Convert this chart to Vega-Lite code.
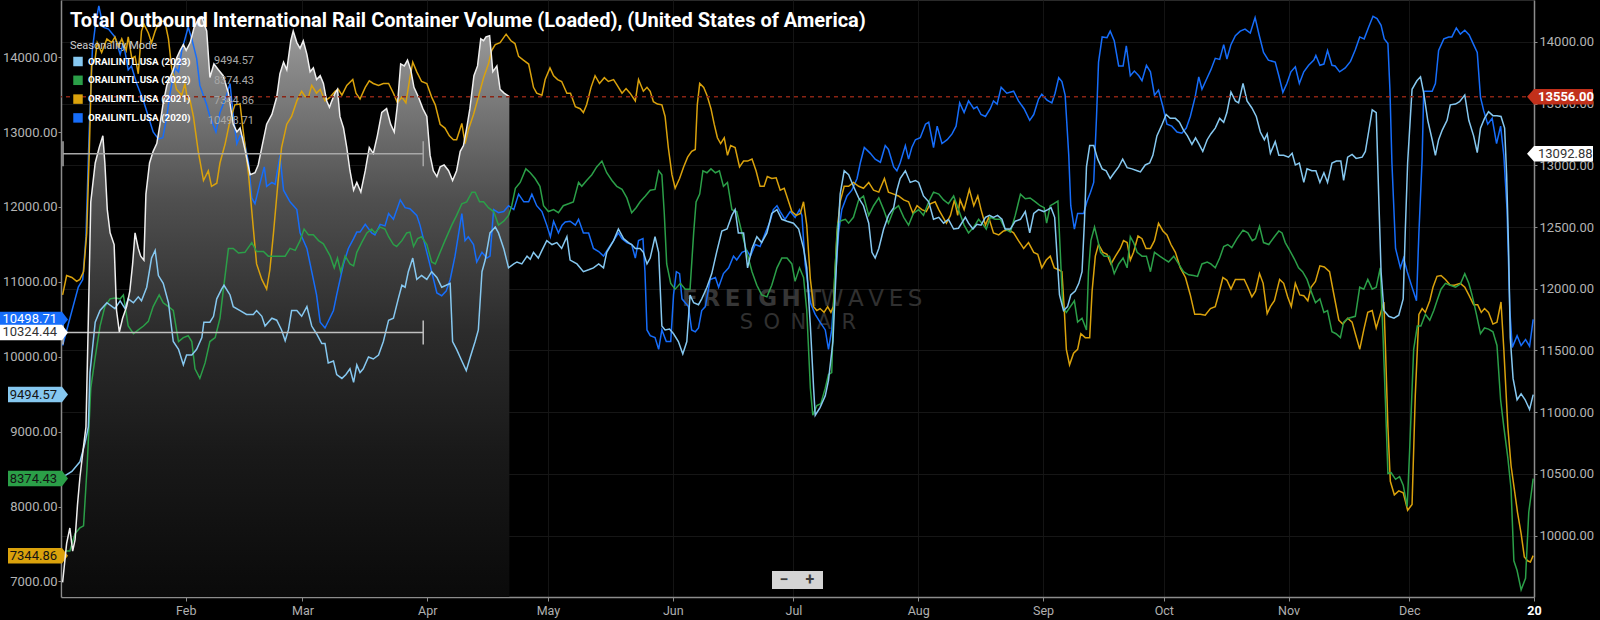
{
  "$schema": "https://vega.github.io/schema/vega-lite/v6.json",
  "width": 1473,
  "height": 597,
  "autosize": {"type": "none"},
  "padding": {"left": 61, "right": 66, "top": 0, "bottom": 23},
  "background": "#000000",
  "title": {
    "text": "Total Outbound International Rail Container Volume (Loaded), (United States of America)",
    "anchor": "start", "frame": "group", "offset": -31, "dx": 9,
    "font": "Roboto", "fontSize": 20, "fontWeight": "bold", "color": "#ffffff"
  },
  "config": {
    "view": {"stroke": "#2a2a2a"},
    "font": "Roboto",
    "axis": {"labelFont": "Roboto", "domainColor": "#8c8c8c", "tickColor": "#8c8c8c", "domainWidth": 1.5},
    "legend": {"labelFont": "Roboto", "titleFont": "Roboto"}
  },
  "datasets": {
    "lines": [
      {"s":"2020","d":0.4,"v":10150},{"s":"2020","d":4.3,"v":10930},{"s":"2020","d":5.4,"v":11030},{"s":"2020","d":6.2,"v":11600},{"s":"2020","d":7,"v":13000},{"s":"2020","d":7.8,"v":14100},{"s":"2020","d":8.6,"v":14450},{"s":"2020","d":9.4,"v":14684},{"s":"2020","d":10.5,"v":14399},{"s":"2020","d":11.8,"v":14373},{"s":"2020","d":13.4,"v":14269},{"s":"2020","d":14.7,"v":14036},{"s":"2020","d":15.5,"v":14192},{"s":"2020","d":16.7,"v":13829},{"s":"2020","d":17.5,"v":13881},{"s":"2020","d":18.8,"v":13648},{"s":"2020","d":20.5,"v":13415},{"s":"2020","d":21.7,"v":13207},{"s":"2020","d":22.9,"v":13000},{"s":"2020","d":24.2,"v":12907},{"s":"2020","d":25.3,"v":12923},{"s":"2020","d":26.3,"v":13207},{"s":"2020","d":27.1,"v":13518},{"s":"2020","d":28.3,"v":13855},{"s":"2020","d":29.2,"v":13803},{"s":"2020","d":30,"v":14088},{"s":"2020","d":30.8,"v":14243},{"s":"2020","d":31.6,"v":14399},{"s":"2020","d":32.5,"v":14243},{"s":"2020","d":33.7,"v":13984},{"s":"2020","d":34.5,"v":13622},{"s":"2020","d":36.2,"v":13363},{"s":"2020","d":37,"v":13207},{"s":"2020","d":38.5,"v":13000},{"s":"2020","d":39.5,"v":13259},{"s":"2020","d":41,"v":13466},{"s":"2020","d":42,"v":13648},{"s":"2020","d":42.8,"v":13207},{"s":"2020","d":43.7,"v":12845},{"s":"2020","d":44.5,"v":12948},{"s":"2020","d":45.4,"v":12923},{"s":"2020","d":46.6,"v":12586},{"s":"2020","d":47.4,"v":12120},{"s":"2020","d":48.2,"v":12042},{"s":"2020","d":49.5,"v":12327},{"s":"2020","d":50.5,"v":12534},{"s":"2020","d":51.1,"v":12275},{"s":"2020","d":52.4,"v":12327},{"s":"2020","d":53.2,"v":12301},{"s":"2020","d":54.4,"v":12689},{"s":"2020","d":55.3,"v":12223},{"s":"2020","d":56.9,"v":12068},{"s":"2020","d":58.6,"v":11964},{"s":"2020","d":59.4,"v":11653},{"s":"2020","d":61.1,"v":11446},{"s":"2020","d":62.3,"v":11135},{"s":"2020","d":63.5,"v":10825},{"s":"2020","d":64.4,"v":10462},{"s":"2020","d":65.6,"v":10384},{"s":"2020","d":67.7,"v":10617},{"s":"2020","d":68.5,"v":10825},{"s":"2020","d":70.2,"v":11239},{"s":"2020","d":71.4,"v":11446},{"s":"2020","d":72.7,"v":11576},{"s":"2020","d":73.5,"v":11664},{"s":"2020","d":74.3,"v":11664},{"s":"2020","d":75.6,"v":11767},{"s":"2020","d":77.2,"v":11653},{"s":"2020","d":78,"v":11627},{"s":"2020","d":79.3,"v":11767},{"s":"2020","d":80.5,"v":11747},{"s":"2020","d":81.4,"v":11912},{"s":"2020","d":82.6,"v":11835},{"s":"2020","d":84.3,"v":12094},{"s":"2020","d":85.5,"v":11990},{"s":"2020","d":86.7,"v":11975},{"s":"2020","d":88.4,"v":11887},{"s":"2020","d":89.2,"v":11757},{"s":"2020","d":90.9,"v":11394},{"s":"2020","d":92.1,"v":11135},{"s":"2020","d":93.4,"v":10851},{"s":"2020","d":94.6,"v":10814},{"s":"2020","d":95.7,"v":10876},{"s":"2020","d":96.7,"v":11032},{"s":"2020","d":97.9,"v":11343},{"s":"2020","d":99.6,"v":11912},{"s":"2020","d":100.4,"v":11550},{"s":"2020","d":101.2,"v":11602},{"s":"2020","d":102.5,"v":11498},{"s":"2020","d":103.3,"v":11265},{"s":"2020","d":104.6,"v":11394},{"s":"2020","d":105.8,"v":11317},{"s":"2020","d":106.6,"v":11343},{"s":"2020","d":107.5,"v":11964},{"s":"2020","d":108.7,"v":11923},{"s":"2020","d":110,"v":11938},{"s":"2020","d":111.2,"v":12016},{"s":"2020","d":112.5,"v":11964},{"s":"2020","d":113.7,"v":12171},{"s":"2020","d":115,"v":12068},{"s":"2020","d":116.2,"v":12068},{"s":"2020","d":117,"v":12171},{"s":"2020","d":118.2,"v":12016},{"s":"2020","d":119.5,"v":11938},{"s":"2020","d":120.7,"v":11757},{"s":"2020","d":121.6,"v":11602},{"s":"2020","d":122.4,"v":11809},{"s":"2020","d":123.6,"v":11653},{"s":"2020","d":124.5,"v":11757},{"s":"2020","d":125.3,"v":11798},{"s":"2020","d":126.5,"v":11809},{"s":"2020","d":127.8,"v":11757},{"s":"2020","d":128.6,"v":11835},{"s":"2020","d":129.8,"v":11653},{"s":"2020","d":131.1,"v":11653},{"s":"2020","d":132.3,"v":11446},{"s":"2020","d":133.6,"v":11405},{"s":"2020","d":134.8,"v":11343},{"s":"2020","d":136,"v":11446},{"s":"2020","d":137.3,"v":11550},{"s":"2020","d":138.5,"v":11653},{"s":"2020","d":139.4,"v":11576},{"s":"2020","d":140.6,"v":11524},{"s":"2020","d":141.8,"v":11498},{"s":"2020","d":142.7,"v":11317},{"s":"2020","d":143.5,"v":11550},{"s":"2020","d":144.6,"v":11576},{"s":"2020","d":145.1,"v":11135},{"s":"2020","d":145.6,"v":10358},{"s":"2020","d":146.4,"v":10281},{"s":"2020","d":147.6,"v":10255},{"s":"2020","d":148.5,"v":10099},{"s":"2020","d":149.3,"v":10358},{"s":"2020","d":150.4,"v":10203},{"s":"2020","d":151.5,"v":10203},{"s":"2020","d":152.2,"v":10825},{"s":"2020","d":152.9,"v":11135},{"s":"2020","d":153.7,"v":11110},{"s":"2020","d":154.3,"v":10773},{"s":"2020","d":155.1,"v":10721},{"s":"2020","d":155.9,"v":10669},{"s":"2020","d":156.7,"v":10358},{"s":"2020","d":157.6,"v":10333},{"s":"2020","d":158.4,"v":10384},{"s":"2020","d":159.2,"v":10617},{"s":"2020","d":160.1,"v":10669},{"s":"2020","d":161.3,"v":11032},{"s":"2020","d":162.6,"v":11058},{"s":"2020","d":163.4,"v":10928},{"s":"2020","d":164.6,"v":11110},{"s":"2020","d":165.9,"v":11187},{"s":"2020","d":167.1,"v":11343},{"s":"2020","d":167.9,"v":11291},{"s":"2020","d":169.2,"v":11394},{"s":"2020","d":170.4,"v":11420},{"s":"2020","d":171.3,"v":11343},{"s":"2020","d":172.5,"v":11498},{"s":"2020","d":173.7,"v":11472},{"s":"2020","d":175,"v":11653},{"s":"2020","d":176.2,"v":11809},{"s":"2020","d":177,"v":11964},{"s":"2020","d":177.9,"v":12016},{"s":"2020","d":178.7,"v":11938},{"s":"2020","d":179.9,"v":11835},{"s":"2020","d":181.2,"v":11938},{"s":"2020","d":182.4,"v":11861},{"s":"2020","d":183.5,"v":11964},{"s":"2020","d":184.1,"v":11887},{"s":"2020","d":184.9,"v":11239},{"s":"2020","d":186.2,"v":10721},{"s":"2020","d":187.4,"v":10566},{"s":"2020","d":188.6,"v":10462},{"s":"2020","d":189.9,"v":10358},{"s":"2020","d":190.7,"v":10099},{"s":"2020","d":191.5,"v":10358},{"s":"2020","d":192.4,"v":11032},{"s":"2020","d":193.2,"v":11653},{"s":"2020","d":194,"v":11964},{"s":"2020","d":195.3,"v":12146},{"s":"2020","d":196.5,"v":12223},{"s":"2020","d":197.8,"v":12379},{"s":"2020","d":198.6,"v":12586},{"s":"2020","d":199.6,"v":12793},{"s":"2020","d":201.1,"v":12715},{"s":"2020","d":202.3,"v":12638},{"s":"2020","d":203.6,"v":12596},{"s":"2020","d":204.8,"v":12819},{"s":"2020","d":205.6,"v":12767},{"s":"2020","d":206.9,"v":12534},{"s":"2020","d":207.7,"v":12482},{"s":"2020","d":208.5,"v":12586},{"s":"2020","d":209.8,"v":12819},{"s":"2020","d":210.6,"v":12638},{"s":"2020","d":211.4,"v":12793},{"s":"2020","d":212.3,"v":12897},{"s":"2020","d":213.5,"v":12923},{"s":"2020","d":214.8,"v":13104},{"s":"2020","d":215.6,"v":13130},{"s":"2020","d":216.8,"v":12793},{"s":"2020","d":217.7,"v":13078},{"s":"2020","d":218.9,"v":12845},{"s":"2020","d":220.2,"v":12897},{"s":"2020","d":221.4,"v":12974},{"s":"2020","d":222.4,"v":13078},{"s":"2020","d":223.3,"v":13389},{"s":"2020","d":224.4,"v":13259},{"s":"2020","d":225.5,"v":13415},{"s":"2020","d":226.8,"v":13311},{"s":"2020","d":227.6,"v":13337},{"s":"2020","d":228.6,"v":13233},{"s":"2020","d":229.7,"v":13207},{"s":"2020","d":230.9,"v":13311},{"s":"2020","d":231.7,"v":13415},{"s":"2020","d":232.6,"v":13373},{"s":"2020","d":233.6,"v":13596},{"s":"2020","d":235,"v":13518},{"s":"2020","d":236.7,"v":13544},{"s":"2020","d":237.9,"v":13415},{"s":"2020","d":239.3,"v":13311},{"s":"2020","d":240.7,"v":13156},{"s":"2020","d":241.7,"v":13233},{"s":"2020","d":242.9,"v":13441},{"s":"2020","d":243.7,"v":13503},{"s":"2020","d":245,"v":13425},{"s":"2020","d":246.2,"v":13389},{"s":"2020","d":247,"v":13518},{"s":"2020","d":247.9,"v":13725},{"s":"2020","d":248.7,"v":13674},{"s":"2020","d":249.5,"v":13492},{"s":"2020","d":250.4,"v":12689},{"s":"2020","d":250.9,"v":12016},{"s":"2020","d":251.8,"v":11705},{"s":"2020","d":252.6,"v":11912},{"s":"2020","d":254.1,"v":11912},{"s":"2020","d":254.9,"v":12068},{"s":"2020","d":255.8,"v":12197},{"s":"2020","d":256.6,"v":12327},{"s":"2020","d":257.3,"v":13207},{"s":"2020","d":257.8,"v":13933},{"s":"2020","d":258.7,"v":14269},{"s":"2020","d":259.9,"v":14259},{"s":"2020","d":260.7,"v":14347},{"s":"2020","d":261.7,"v":14218},{"s":"2020","d":262.8,"v":13881},{"s":"2020","d":263.9,"v":13881},{"s":"2020","d":264.7,"v":14150},{"s":"2020","d":265.7,"v":13751},{"s":"2020","d":266.7,"v":13813},{"s":"2020","d":267.8,"v":13751},{"s":"2020","d":268.6,"v":13684},{"s":"2020","d":269.7,"v":13891},{"s":"2020","d":270.7,"v":13803},{"s":"2020","d":271.7,"v":13492},{"s":"2020","d":272.7,"v":13560},{"s":"2020","d":273.8,"v":13337},{"s":"2020","d":274.8,"v":13104},{"s":"2020","d":276,"v":13078},{"s":"2020","d":277.3,"v":13000},{"s":"2020","d":278.5,"v":12985},{"s":"2020","d":279.6,"v":13052},{"s":"2020","d":280.6,"v":13207},{"s":"2020","d":281.8,"v":13466},{"s":"2020","d":282.7,"v":13736},{"s":"2020","d":283.5,"v":13570},{"s":"2020","d":284.8,"v":13725},{"s":"2020","d":285.7,"v":13829},{"s":"2020","d":286.8,"v":13984},{"s":"2020","d":287.9,"v":13969},{"s":"2020","d":288.9,"v":14166},{"s":"2020","d":289.7,"v":13974},{"s":"2020","d":290.7,"v":14166},{"s":"2020","d":291.8,"v":14285},{"s":"2020","d":293,"v":14347},{"s":"2020","d":294.2,"v":14373},{"s":"2020","d":295.5,"v":14321},{"s":"2020","d":296.7,"v":14528},{"s":"2020","d":297.7,"v":14295},{"s":"2020","d":298.8,"v":14062},{"s":"2020","d":300,"v":13959},{"s":"2020","d":301.7,"v":13933},{"s":"2020","d":302.6,"v":13751},{"s":"2020","d":303.6,"v":13529},{"s":"2020","d":304.6,"v":13648},{"s":"2020","d":305.6,"v":13803},{"s":"2020","d":306.7,"v":13870},{"s":"2020","d":307.7,"v":13648},{"s":"2020","d":308.8,"v":13803},{"s":"2020","d":310,"v":13891},{"s":"2020","d":311.3,"v":13959},{"s":"2020","d":311.8,"v":14021},{"s":"2020","d":312.8,"v":13891},{"s":"2020","d":313.8,"v":13907},{"s":"2020","d":314.7,"v":14088},{"s":"2020","d":315.8,"v":13891},{"s":"2020","d":316.6,"v":13881},{"s":"2020","d":317.7,"v":13803},{"s":"2020","d":319.1,"v":13855},{"s":"2020","d":320.4,"v":13943},{"s":"2020","d":321.6,"v":14098},{"s":"2020","d":322.7,"v":14269},{"s":"2020","d":323.8,"v":14243},{"s":"2020","d":324.9,"v":14399},{"s":"2020","d":326,"v":14544},{"s":"2020","d":327,"v":14513},{"s":"2020","d":328,"v":14425},{"s":"2020","d":328.8,"v":14243},{"s":"2020","d":329.7,"v":14181},{"s":"2020","d":330.2,"v":13570},{"s":"2020","d":330.7,"v":12586},{"s":"2020","d":331.6,"v":11446},{"s":"2020","d":332.8,"v":11187},{"s":"2020","d":333.6,"v":11317},{"s":"2020","d":334.5,"v":11135},{"s":"2020","d":335.7,"v":10928},{"s":"2020","d":336.8,"v":10747},{"s":"2020","d":337.4,"v":11653},{"s":"2020","d":338.2,"v":12638},{"s":"2020","d":338.6,"v":13544},{"s":"2020","d":339.4,"v":13544},{"s":"2020","d":340.7,"v":13544},{"s":"2020","d":341.5,"v":13648},{"s":"2020","d":342.3,"v":14088},{"s":"2020","d":343.6,"v":14243},{"s":"2020","d":344.8,"v":14269},{"s":"2020","d":345.6,"v":14269},{"s":"2020","d":346.7,"v":14388},{"s":"2020","d":347.7,"v":14306},{"s":"2020","d":348.8,"v":14358},{"s":"2020","d":349.9,"v":14295},{"s":"2020","d":351,"v":14166},{"s":"2020","d":351.9,"v":14062},{"s":"2020","d":352.7,"v":13466},{"s":"2020","d":353.5,"v":13285},{"s":"2020","d":354.5,"v":13104},{"s":"2020","d":355.6,"v":13182},{"s":"2020","d":356.7,"v":12845},{"s":"2020","d":357.7,"v":13078},{"s":"2020","d":358.5,"v":12689},{"s":"2020","d":359.3,"v":11964},{"s":"2020","d":360,"v":10617},{"s":"2020","d":360.6,"v":10125},{"s":"2020","d":361.8,"v":10281},{"s":"2020","d":362.8,"v":10151},{"s":"2020","d":363.9,"v":10229},{"s":"2020","d":364.9,"v":10140},{"s":"2020","d":365.8,"v":10499},

      {"s":"2021","d":0.4,"v":10825},{"s":"2021","d":1.4,"v":11084},{"s":"2021","d":2.7,"v":11058},{"s":"2021","d":3.9,"v":11006},{"s":"2021","d":4.7,"v":11032},{"s":"2021","d":5.6,"v":11135},{"s":"2021","d":6.4,"v":11653},{"s":"2021","d":7,"v":12689},{"s":"2021","d":7.6,"v":13881},{"s":"2021","d":8.5,"v":13984},{"s":"2021","d":9,"v":14192},{"s":"2021","d":10.1,"v":14062},{"s":"2021","d":11.4,"v":14243},{"s":"2021","d":12.6,"v":14192},{"s":"2021","d":13.4,"v":14269},{"s":"2021","d":14.3,"v":14140},{"s":"2021","d":15.1,"v":14243},{"s":"2021","d":16.2,"v":14088},{"s":"2021","d":16.7,"v":14269},{"s":"2021","d":17.6,"v":13984},{"s":"2021","d":18.4,"v":14010},{"s":"2021","d":19.2,"v":13777},{"s":"2021","d":20,"v":14347},{"s":"2021","d":20.6,"v":14440},{"s":"2021","d":21.7,"v":14321},{"s":"2021","d":22.5,"v":14192},{"s":"2021","d":23.4,"v":14347},{"s":"2021","d":24.2,"v":14451},{"s":"2021","d":25,"v":14477},{"s":"2021","d":25.8,"v":14477},{"s":"2021","d":26.7,"v":14243},{"s":"2021","d":27.5,"v":13855},{"s":"2021","d":28.7,"v":13570},{"s":"2021","d":30,"v":13492},{"s":"2021","d":30.8,"v":13648},{"s":"2021","d":31.4,"v":13441},{"s":"2021","d":32.1,"v":13415},{"s":"2021","d":32.9,"v":13207},{"s":"2021","d":34.1,"v":12741},{"s":"2021","d":35.4,"v":12353},{"s":"2021","d":36.6,"v":12482},{"s":"2021","d":37.4,"v":12275},{"s":"2021","d":38.7,"v":12316},{"s":"2021","d":39.5,"v":12586},{"s":"2021","d":40.8,"v":12845},{"s":"2021","d":42,"v":13156},{"s":"2021","d":43.2,"v":13363},{"s":"2021","d":44.5,"v":13373},{"s":"2021","d":45.3,"v":13000},{"s":"2021","d":46.6,"v":12430},{"s":"2021","d":47.8,"v":11705},{"s":"2021","d":48.6,"v":11239},{"s":"2021","d":49.9,"v":11032},{"s":"2021","d":51.1,"v":10902},{"s":"2021","d":51.9,"v":11161},{"s":"2021","d":52.8,"v":11653},{"s":"2021","d":54,"v":12379},{"s":"2021","d":54.8,"v":12793},{"s":"2021","d":56.1,"v":13104},{"s":"2021","d":57.3,"v":13207},{"s":"2021","d":58.6,"v":13415},{"s":"2021","d":59.8,"v":13544},{"s":"2021","d":60.6,"v":13477},{"s":"2021","d":61.5,"v":13466},{"s":"2021","d":62.3,"v":13622},{"s":"2021","d":63.5,"v":13518},{"s":"2021","d":64.4,"v":13570},{"s":"2021","d":65.6,"v":13415},{"s":"2021","d":66.9,"v":13466},{"s":"2021","d":68.1,"v":13544},{"s":"2021","d":68.9,"v":13570},{"s":"2021","d":69.8,"v":13492},{"s":"2021","d":71,"v":13622},{"s":"2021","d":72.5,"v":13700},{"s":"2021","d":73.3,"v":13518},{"s":"2021","d":74.3,"v":13441},{"s":"2021","d":75.6,"v":13596},{"s":"2021","d":76.6,"v":13684},{"s":"2021","d":77.6,"v":13648},{"s":"2021","d":78.9,"v":13622},{"s":"2021","d":80.1,"v":13648},{"s":"2021","d":81.4,"v":13648},{"s":"2021","d":82.6,"v":13518},{"s":"2021","d":83.6,"v":13389},{"s":"2021","d":84.7,"v":13466},{"s":"2021","d":85.7,"v":13389},{"s":"2021","d":86.7,"v":13725},{"s":"2021","d":87.4,"v":13933},{"s":"2021","d":88.4,"v":13803},{"s":"2021","d":89.6,"v":13674},{"s":"2021","d":90.9,"v":13648},{"s":"2021","d":92.1,"v":13466},{"s":"2021","d":93,"v":13363},{"s":"2021","d":94.2,"v":13104},{"s":"2021","d":95.4,"v":13052},{"s":"2021","d":96.5,"v":12948},{"s":"2021","d":97.5,"v":12897},{"s":"2021","d":98.3,"v":12897},{"s":"2021","d":99.6,"v":13114},{"s":"2021","d":100.4,"v":12845},{"s":"2021","d":101.2,"v":13026},{"s":"2021","d":102.5,"v":13233},{"s":"2021","d":103.7,"v":13466},{"s":"2021","d":105,"v":13725},{"s":"2021","d":106.2,"v":13907},{"s":"2021","d":107,"v":14088},{"s":"2021","d":107.9,"v":14166},{"s":"2021","d":109.1,"v":14192},{"s":"2021","d":110.6,"v":14306},{"s":"2021","d":111.8,"v":14218},{"s":"2021","d":112.8,"v":14181},{"s":"2021","d":113.7,"v":14010},{"s":"2021","d":114.9,"v":13959},{"s":"2021","d":116.2,"v":13907},{"s":"2021","d":117.4,"v":13596},{"s":"2021","d":118.2,"v":13518},{"s":"2021","d":119.5,"v":13492},{"s":"2021","d":120.3,"v":13700},{"s":"2021","d":121.5,"v":13855},{"s":"2021","d":122.4,"v":13751},{"s":"2021","d":123.4,"v":13700},{"s":"2021","d":124.4,"v":13674},{"s":"2021","d":125.7,"v":13518},{"s":"2021","d":126.6,"v":13518},{"s":"2021","d":127.8,"v":13337},{"s":"2021","d":129,"v":13311},{"s":"2021","d":129.8,"v":13259},{"s":"2021","d":130.6,"v":13363},{"s":"2021","d":131.7,"v":13596},{"s":"2021","d":132.7,"v":13751},{"s":"2021","d":133.8,"v":13648},{"s":"2021","d":135,"v":13725},{"s":"2021","d":136,"v":13674},{"s":"2021","d":137.3,"v":13700},{"s":"2021","d":138.1,"v":13632},{"s":"2021","d":139.4,"v":13518},{"s":"2021","d":140.4,"v":13580},{"s":"2021","d":141.4,"v":13518},{"s":"2021","d":142.7,"v":13415},{"s":"2021","d":143.5,"v":13700},{"s":"2021","d":144.7,"v":13544},{"s":"2021","d":145.6,"v":13596},{"s":"2021","d":146.4,"v":13544},{"s":"2021","d":147.2,"v":13404},{"s":"2021","d":148.2,"v":13373},{"s":"2021","d":149.3,"v":13363},{"s":"2021","d":150.1,"v":13207},{"s":"2021","d":150.9,"v":12793},{"s":"2021","d":151.8,"v":12430},{"s":"2021","d":152.6,"v":12249},{"s":"2021","d":153.7,"v":12379},{"s":"2021","d":154.7,"v":12534},{"s":"2021","d":155.7,"v":12664},{"s":"2021","d":156.7,"v":12741},{"s":"2021","d":157.6,"v":12767},{"s":"2021","d":158.1,"v":13363},{"s":"2021","d":158.7,"v":13648},{"s":"2021","d":159.7,"v":13596},{"s":"2021","d":160.5,"v":13492},{"s":"2021","d":161.5,"v":13311},{"s":"2021","d":162.3,"v":13104},{"s":"2021","d":163.1,"v":12923},{"s":"2021","d":163.9,"v":12845},{"s":"2021","d":164.8,"v":12923},{"s":"2021","d":165.6,"v":12689},{"s":"2021","d":166.4,"v":12819},{"s":"2021","d":167.5,"v":12793},{"s":"2021","d":168.6,"v":12534},{"s":"2021","d":169.6,"v":12612},{"s":"2021","d":170.6,"v":12612},{"s":"2021","d":171.7,"v":12638},{"s":"2021","d":172.7,"v":12482},{"s":"2021","d":173.7,"v":12275},{"s":"2021","d":174.7,"v":12275},{"s":"2021","d":175.5,"v":12405},{"s":"2021","d":176.6,"v":12379},{"s":"2021","d":177.7,"v":12389},{"s":"2021","d":178.7,"v":12223},{"s":"2021","d":179.7,"v":12249},{"s":"2021","d":180.8,"v":12068},{"s":"2021","d":181.6,"v":11938},{"s":"2021","d":182.7,"v":11887},{"s":"2021","d":183.7,"v":11912},{"s":"2021","d":184.5,"v":12068},{"s":"2021","d":185.3,"v":11757},{"s":"2021","d":186.2,"v":11032},{"s":"2021","d":187,"v":10669},{"s":"2021","d":187.8,"v":10617},{"s":"2021","d":188.6,"v":10643},{"s":"2021","d":189.6,"v":10592},{"s":"2021","d":190.5,"v":10669},{"s":"2021","d":191.3,"v":10592},{"s":"2021","d":191.9,"v":10669},{"s":"2021","d":192.8,"v":11653},{"s":"2021","d":193.6,"v":12068},{"s":"2021","d":194.6,"v":12275},{"s":"2021","d":195.7,"v":12275},{"s":"2021","d":196.9,"v":12327},{"s":"2021","d":198.2,"v":12275},{"s":"2021","d":199.4,"v":12249},{"s":"2021","d":200.7,"v":12327},{"s":"2021","d":201.9,"v":12223},{"s":"2021","d":203.2,"v":12197},{"s":"2021","d":204.6,"v":12379},{"s":"2021","d":205.6,"v":12197},{"s":"2021","d":206.9,"v":12171},{"s":"2021","d":208.1,"v":12146},{"s":"2021","d":209.4,"v":12094},{"s":"2021","d":210.6,"v":12068},{"s":"2021","d":211.7,"v":11912},{"s":"2021","d":212.7,"v":12016},{"s":"2021","d":213.9,"v":11964},{"s":"2021","d":215,"v":11938},{"s":"2021","d":216,"v":12042},{"s":"2021","d":217.2,"v":12068},{"s":"2021","d":218.1,"v":11964},{"s":"2021","d":218.9,"v":11887},{"s":"2021","d":220,"v":11783},{"s":"2021","d":221,"v":11887},{"s":"2021","d":222,"v":12094},{"s":"2021","d":222.8,"v":11887},{"s":"2021","d":223.4,"v":12094},{"s":"2021","d":224.4,"v":11964},{"s":"2021","d":225.7,"v":12234},{"s":"2021","d":226.8,"v":12016},{"s":"2021","d":227.8,"v":12146},{"s":"2021","d":228.6,"v":11964},{"s":"2021","d":229.7,"v":11757},{"s":"2021","d":230.5,"v":11861},{"s":"2021","d":231.7,"v":11653},{"s":"2021","d":233,"v":11627},{"s":"2021","d":234.2,"v":11679},{"s":"2021","d":235.5,"v":11695},{"s":"2021","d":236.7,"v":11653},{"s":"2021","d":237.9,"v":11550},{"s":"2021","d":239.2,"v":11446},{"s":"2021","d":240.4,"v":11524},{"s":"2021","d":241.7,"v":11394},{"s":"2021","d":242.7,"v":11368},{"s":"2021","d":243.7,"v":11187},{"s":"2021","d":244.8,"v":11291},{"s":"2021","d":245.8,"v":11343},{"s":"2021","d":246.8,"v":11187},{"s":"2021","d":247.9,"v":11161},{"s":"2021","d":248.7,"v":11135},{"s":"2021","d":249.3,"v":10617},{"s":"2021","d":249.8,"v":10099},{"s":"2021","d":250.6,"v":9892},{"s":"2021","d":251.6,"v":10047},{"s":"2021","d":252.6,"v":10099},{"s":"2021","d":253.4,"v":10307},{"s":"2021","d":254.5,"v":10255},{"s":"2021","d":255.6,"v":10255},{"s":"2021","d":256.2,"v":10876},{"s":"2021","d":257,"v":11343},{"s":"2021","d":257.8,"v":11498},{"s":"2021","d":258.9,"v":11394},{"s":"2021","d":259.9,"v":11368},{"s":"2021","d":260.9,"v":11239},{"s":"2021","d":262,"v":11343},{"s":"2021","d":263.2,"v":11446},{"s":"2021","d":264,"v":11550},{"s":"2021","d":264.9,"v":11524},{"s":"2021","d":265.7,"v":11291},{"s":"2021","d":266.5,"v":11394},{"s":"2021","d":267.6,"v":11612},{"s":"2021","d":268.6,"v":11576},{"s":"2021","d":269.6,"v":11446},{"s":"2021","d":270.7,"v":11446},{"s":"2021","d":271.7,"v":11550},{"s":"2021","d":272.7,"v":11783},{"s":"2021","d":273.8,"v":11679},{"s":"2021","d":274.8,"v":11627},{"s":"2021","d":275.8,"v":11498},{"s":"2021","d":276.9,"v":11394},{"s":"2021","d":278.1,"v":11187},{"s":"2021","d":279.4,"v":11058},{"s":"2021","d":280.6,"v":10825},{"s":"2021","d":281.7,"v":10566},{"s":"2021","d":283.1,"v":10566},{"s":"2021","d":284.3,"v":10555},{"s":"2021","d":285.6,"v":10643},{"s":"2021","d":286.8,"v":10669},{"s":"2021","d":287.6,"v":10825},{"s":"2021","d":288.7,"v":11058},{"s":"2021","d":289.7,"v":11021},{"s":"2021","d":290.7,"v":10902},{"s":"2021","d":291.8,"v":11032},{"s":"2021","d":293,"v":11032},{"s":"2021","d":294,"v":11032},{"s":"2021","d":294.9,"v":10928},{"s":"2021","d":295.9,"v":10799},{"s":"2021","d":296.8,"v":10876},{"s":"2021","d":297.8,"v":11110},{"s":"2021","d":298.7,"v":10980},{"s":"2021","d":299.7,"v":10576},{"s":"2021","d":300.5,"v":10669},{"s":"2021","d":301.5,"v":10747},{"s":"2021","d":302.8,"v":11032},{"s":"2021","d":303.8,"v":10980},{"s":"2021","d":304.8,"v":10799},{"s":"2021","d":305.7,"v":10669},{"s":"2021","d":306.7,"v":10980},{"s":"2021","d":307.8,"v":10825},{"s":"2021","d":308.8,"v":10814},{"s":"2021","d":309.8,"v":10747},{"s":"2021","d":310.6,"v":10928},{"s":"2021","d":311.7,"v":11006},{"s":"2021","d":312.8,"v":11213},{"s":"2021","d":313.9,"v":11198},{"s":"2021","d":315.2,"v":11135},{"s":"2021","d":316.2,"v":10851},{"s":"2021","d":317.5,"v":10488},{"s":"2021","d":318.5,"v":10436},{"s":"2021","d":319.7,"v":10514},{"s":"2021","d":320.8,"v":10462},{"s":"2021","d":321.6,"v":10307},{"s":"2021","d":322.7,"v":10099},{"s":"2021","d":323.7,"v":10358},{"s":"2021","d":324.7,"v":10592},{"s":"2021","d":325.8,"v":10617},{"s":"2021","d":326.8,"v":10384},{"s":"2021","d":327.8,"v":10566},{"s":"2021","d":328.7,"v":10731},{"s":"2021","d":329.1,"v":10099},{"s":"2021","d":329.7,"v":9063},{"s":"2021","d":330.3,"v":8338},{"s":"2021","d":331.3,"v":8157},{"s":"2021","d":332.4,"v":8209},{"s":"2021","d":333.5,"v":8183},{"s":"2021","d":334,"v":8079},{"s":"2021","d":334.6,"v":7950},{"s":"2021","d":335.7,"v":8027},{"s":"2021","d":336.5,"v":9478},{"s":"2021","d":337.4,"v":10566},{"s":"2021","d":338.2,"v":10643},{"s":"2021","d":339,"v":10592},{"s":"2021","d":340.1,"v":10747},{"s":"2021","d":340.9,"v":10928},{"s":"2021","d":341.9,"v":11073},{"s":"2021","d":342.9,"v":11084},{"s":"2021","d":344,"v":11032},{"s":"2021","d":345.2,"v":10954},{"s":"2021","d":346.2,"v":10954},{"s":"2021","d":347.7,"v":10980},{"s":"2021","d":348.8,"v":10928},{"s":"2021","d":349.8,"v":10825},{"s":"2021","d":351,"v":10695},{"s":"2021","d":352,"v":10695},{"s":"2021","d":352.9,"v":10592},{"s":"2021","d":353.7,"v":10643},{"s":"2021","d":354.7,"v":10592},{"s":"2021","d":355.8,"v":10436},{"s":"2021","d":356.8,"v":10462},{"s":"2021","d":357.8,"v":10731},{"s":"2021","d":358.5,"v":10099},{"s":"2021","d":359.5,"v":9063},{"s":"2021","d":360.3,"v":8545},{"s":"2021","d":361.1,"v":8235},{"s":"2021","d":361.9,"v":7924},{"s":"2021","d":362.8,"v":7639},{"s":"2021","d":363.6,"v":7328},{"s":"2021","d":364.4,"v":7276},{"s":"2021","d":365.1,"v":7261},{"s":"2021","d":365.8,"v":7345},

      {"s":"2022","d":1,"v":7406},{"s":"2022","d":2.2,"v":7406},{"s":"2022","d":3.5,"v":7639},{"s":"2022","d":4.7,"v":7717},{"s":"2022","d":5.6,"v":7743},{"s":"2022","d":6.5,"v":8546},{"s":"2022","d":7.4,"v":9582},{"s":"2022","d":8.5,"v":9996},{"s":"2022","d":9.7,"v":10410},{"s":"2022","d":10.9,"v":10669},{"s":"2022","d":12.2,"v":10773},{"s":"2022","d":13.4,"v":10783},{"s":"2022","d":14.7,"v":10773},{"s":"2022","d":15.5,"v":10825},{"s":"2022","d":16.7,"v":10410},{"s":"2022","d":18,"v":10307},{"s":"2022","d":19.2,"v":10358},{"s":"2022","d":20.5,"v":10410},{"s":"2022","d":21.7,"v":10472},{"s":"2022","d":22.9,"v":10669},{"s":"2022","d":24.4,"v":10825},{"s":"2022","d":25.4,"v":10721},{"s":"2022","d":26.7,"v":10669},{"s":"2022","d":27.9,"v":10617},{"s":"2022","d":29.2,"v":10203},{"s":"2022","d":30.4,"v":10255},{"s":"2022","d":31.6,"v":10281},{"s":"2022","d":32.5,"v":10203},{"s":"2022","d":33.3,"v":9840},{"s":"2022","d":34.5,"v":9711},{"s":"2022","d":35.8,"v":9918},{"s":"2022","d":37,"v":10203},{"s":"2022","d":38.3,"v":10255},{"s":"2022","d":39.5,"v":10514},{"s":"2022","d":40.3,"v":10876},{"s":"2022","d":41.6,"v":11446},{"s":"2022","d":42.8,"v":11446},{"s":"2022","d":44.1,"v":11384},{"s":"2022","d":45.7,"v":11394},{"s":"2022","d":47.4,"v":11524},{"s":"2022","d":48.6,"v":11405},{"s":"2022","d":50.3,"v":11405},{"s":"2022","d":51.5,"v":11343},{"s":"2022","d":52.8,"v":11343},{"s":"2022","d":54,"v":11343},{"s":"2022","d":55.7,"v":11343},{"s":"2022","d":56.9,"v":11446},{"s":"2022","d":58.2,"v":11420},{"s":"2022","d":59.4,"v":11550},{"s":"2022","d":60.4,"v":11705},{"s":"2022","d":61.5,"v":11627},{"s":"2022","d":62.7,"v":11627},{"s":"2022","d":64,"v":11550},{"s":"2022","d":65.2,"v":11508},{"s":"2022","d":66.9,"v":11343},{"s":"2022","d":67.9,"v":11187},{"s":"2022","d":68.7,"v":11317},{"s":"2022","d":69.5,"v":11135},{"s":"2022","d":70.6,"v":11343},{"s":"2022","d":71.8,"v":11239},{"s":"2022","d":72.7,"v":11213},{"s":"2022","d":73.5,"v":11394},{"s":"2022","d":74.7,"v":11524},{"s":"2022","d":76,"v":11653},{"s":"2022","d":77.2,"v":11705},{"s":"2022","d":78,"v":11653},{"s":"2022","d":79.3,"v":11731},{"s":"2022","d":80.5,"v":11705},{"s":"2022","d":81.4,"v":11602},{"s":"2022","d":82.6,"v":11498},{"s":"2022","d":83.4,"v":11472},{"s":"2022","d":84.7,"v":11550},{"s":"2022","d":85.9,"v":11653},{"s":"2022","d":86.7,"v":11664},{"s":"2022","d":87.6,"v":11472},{"s":"2022","d":88.6,"v":11576},{"s":"2022","d":89.6,"v":11602},{"s":"2022","d":90.9,"v":11498},{"s":"2022","d":92.1,"v":11265},{"s":"2022","d":93,"v":11239},{"s":"2022","d":94.2,"v":11394},{"s":"2022","d":95.4,"v":11550},{"s":"2022","d":97.1,"v":11757},{"s":"2022","d":98.3,"v":11887},{"s":"2022","d":99.6,"v":12042},{"s":"2022","d":100.8,"v":12068},{"s":"2022","d":102.1,"v":12197},{"s":"2022","d":102.9,"v":12197},{"s":"2022","d":104,"v":12068},{"s":"2022","d":105,"v":12068},{"s":"2022","d":106.2,"v":11990},{"s":"2022","d":107.5,"v":11938},{"s":"2022","d":108.7,"v":11757},{"s":"2022","d":110,"v":11809},{"s":"2022","d":111.2,"v":11887},{"s":"2022","d":112,"v":12016},{"s":"2022","d":112.9,"v":12249},{"s":"2022","d":114.1,"v":12327},{"s":"2022","d":115.5,"v":12508},{"s":"2022","d":116.6,"v":12456},{"s":"2022","d":117.8,"v":12379},{"s":"2022","d":119,"v":12275},{"s":"2022","d":119.9,"v":12016},{"s":"2022","d":121.1,"v":11938},{"s":"2022","d":122.4,"v":11964},{"s":"2022","d":123.6,"v":11923},{"s":"2022","d":124.8,"v":12016},{"s":"2022","d":126.1,"v":12042},{"s":"2022","d":127.3,"v":12068},{"s":"2022","d":128.6,"v":12327},{"s":"2022","d":129.4,"v":12275},{"s":"2022","d":130.6,"v":12353},{"s":"2022","d":131.9,"v":12430},{"s":"2022","d":133.1,"v":12534},{"s":"2022","d":134.4,"v":12612},{"s":"2022","d":135.6,"v":12456},{"s":"2022","d":136.9,"v":12353},{"s":"2022","d":138.1,"v":12275},{"s":"2022","d":139.4,"v":12234},{"s":"2022","d":140.6,"v":12120},{"s":"2022","d":141.8,"v":11923},{"s":"2022","d":142.9,"v":11990},{"s":"2022","d":143.9,"v":12068},{"s":"2022","d":145.2,"v":12146},{"s":"2022","d":146.4,"v":12223},{"s":"2022","d":147.6,"v":12234},{"s":"2022","d":148.5,"v":12482},{"s":"2022","d":149.3,"v":12430},{"s":"2022","d":149.9,"v":11912},{"s":"2022","d":150.5,"v":11239},{"s":"2022","d":151.5,"v":10980},{"s":"2022","d":152.6,"v":10902},{"s":"2022","d":153.9,"v":10980},{"s":"2022","d":155.1,"v":10902},{"s":"2022","d":156.3,"v":10902},{"s":"2022","d":157.2,"v":11653},{"s":"2022","d":157.8,"v":12068},{"s":"2022","d":158.7,"v":12171},{"s":"2022","d":159.5,"v":12482},{"s":"2022","d":160.5,"v":12456},{"s":"2022","d":161.5,"v":12508},{"s":"2022","d":162.6,"v":12456},{"s":"2022","d":163.6,"v":12482},{"s":"2022","d":164.6,"v":12275},{"s":"2022","d":165.6,"v":12327},{"s":"2022","d":166.7,"v":11964},{"s":"2022","d":167.9,"v":11938},{"s":"2022","d":169.2,"v":11653},{"s":"2022","d":170.4,"v":11394},{"s":"2022","d":171.7,"v":11135},{"s":"2022","d":172.9,"v":10954},{"s":"2022","d":174.1,"v":10825},{"s":"2022","d":175.4,"v":10799},{"s":"2022","d":176.6,"v":10954},{"s":"2022","d":177.9,"v":11187},{"s":"2022","d":179.1,"v":11317},{"s":"2022","d":180.4,"v":11317},{"s":"2022","d":181.6,"v":11239},{"s":"2022","d":182.4,"v":11006},{"s":"2022","d":183.5,"v":11187},{"s":"2022","d":184.5,"v":11058},{"s":"2022","d":185.3,"v":10617},{"s":"2022","d":186.2,"v":9581},{"s":"2022","d":186.8,"v":9219},{"s":"2022","d":187.8,"v":9348},{"s":"2022","d":188.8,"v":9374},{"s":"2022","d":189.9,"v":9581},{"s":"2022","d":190.7,"v":9763},{"s":"2022","d":191.5,"v":9789},{"s":"2022","d":192.2,"v":11032},{"s":"2022","d":193,"v":11783},{"s":"2022","d":194,"v":11819},{"s":"2022","d":194.9,"v":11835},{"s":"2022","d":195.7,"v":11783},{"s":"2022","d":196.9,"v":11861},{"s":"2022","d":198.2,"v":12094},{"s":"2022","d":199.4,"v":12146},{"s":"2022","d":200.7,"v":11887},{"s":"2022","d":201.9,"v":12016},{"s":"2022","d":203.2,"v":12120},{"s":"2022","d":204.4,"v":11964},{"s":"2022","d":205.6,"v":11783},{"s":"2022","d":206.9,"v":11964},{"s":"2022","d":208.1,"v":12016},{"s":"2022","d":209.4,"v":11861},{"s":"2022","d":210.6,"v":11757},{"s":"2022","d":211.8,"v":11912},{"s":"2022","d":213.1,"v":11964},{"s":"2022","d":214.3,"v":11887},{"s":"2022","d":215.6,"v":12068},{"s":"2022","d":216.8,"v":12197},{"s":"2022","d":218.1,"v":12171},{"s":"2022","d":219.3,"v":12094},{"s":"2022","d":220.5,"v":12042},{"s":"2022","d":221.8,"v":12146},{"s":"2022","d":223,"v":11964},{"s":"2022","d":224.4,"v":11757},{"s":"2022","d":225.5,"v":11653},{"s":"2022","d":226.8,"v":11731},{"s":"2022","d":228,"v":11835},{"s":"2022","d":229.2,"v":11757},{"s":"2022","d":229.9,"v":11705},{"s":"2022","d":230.9,"v":11861},{"s":"2022","d":232.1,"v":11835},{"s":"2022","d":233.4,"v":11835},{"s":"2022","d":234.6,"v":11705},{"s":"2022","d":235.9,"v":11664},{"s":"2022","d":237.1,"v":11887},{"s":"2022","d":238.4,"v":12171},{"s":"2022","d":239.6,"v":12109},{"s":"2022","d":240.8,"v":12120},{"s":"2022","d":242.1,"v":12068},{"s":"2022","d":243.3,"v":12016},{"s":"2022","d":244.3,"v":11990},{"s":"2022","d":244.9,"v":11783},{"s":"2022","d":245.8,"v":12016},{"s":"2022","d":246.6,"v":12042},{"s":"2022","d":247.7,"v":12078},{"s":"2022","d":248.3,"v":11394},{"s":"2022","d":248.9,"v":10669},{"s":"2022","d":249.8,"v":10592},{"s":"2022","d":250.8,"v":10669},{"s":"2022","d":251.8,"v":10747},{"s":"2022","d":252.6,"v":10462},{"s":"2022","d":253.7,"v":10514},{"s":"2022","d":254.8,"v":10358},{"s":"2022","d":255.3,"v":11135},{"s":"2022","d":255.9,"v":11550},{"s":"2022","d":256.8,"v":11731},{"s":"2022","d":257.4,"v":11602},{"s":"2022","d":258.3,"v":11394},{"s":"2022","d":259.2,"v":11343},{"s":"2022","d":260.5,"v":11343},{"s":"2022","d":261.7,"v":11110},{"s":"2022","d":262.8,"v":11239},{"s":"2022","d":263.9,"v":11317},{"s":"2022","d":264.9,"v":11187},{"s":"2022","d":265.7,"v":11602},{"s":"2022","d":266.5,"v":11524},{"s":"2022","d":267.4,"v":11394},{"s":"2022","d":268.6,"v":11343},{"s":"2022","d":269.7,"v":11343},{"s":"2022","d":270.7,"v":11135},{"s":"2022","d":271.7,"v":11394},{"s":"2022","d":273,"v":11343},{"s":"2022","d":274.2,"v":11301},{"s":"2022","d":275.2,"v":11265},{"s":"2022","d":276.5,"v":11343},{"s":"2022","d":277.7,"v":11239},{"s":"2022","d":278.9,"v":11135},{"s":"2022","d":280.2,"v":11094},{"s":"2022","d":281.4,"v":11084},{"s":"2022","d":282.4,"v":11073},{"s":"2022","d":283.5,"v":11239},{"s":"2022","d":284.8,"v":11265},{"s":"2022","d":285.7,"v":11239},{"s":"2022","d":286.8,"v":11187},{"s":"2022","d":287.9,"v":11317},{"s":"2022","d":288.9,"v":11472},{"s":"2022","d":289.9,"v":11498},{"s":"2022","d":290.9,"v":11457},{"s":"2022","d":292.2,"v":11576},{"s":"2022","d":293.7,"v":11690},{"s":"2022","d":294.9,"v":11653},{"s":"2022","d":296,"v":11550},{"s":"2022","d":296.8,"v":11576},{"s":"2022","d":297.8,"v":11742},{"s":"2022","d":298.8,"v":11524},{"s":"2022","d":300.1,"v":11498},{"s":"2022","d":301.5,"v":11602},{"s":"2022","d":302.6,"v":11679},{"s":"2022","d":303.4,"v":11653},{"s":"2022","d":304.2,"v":11524},{"s":"2022","d":305.3,"v":11420},{"s":"2022","d":306.5,"v":11301},{"s":"2022","d":307.5,"v":11187},{"s":"2022","d":308.5,"v":11135},{"s":"2022","d":309.6,"v":11032},{"s":"2022","d":310.6,"v":10876},{"s":"2022","d":311.7,"v":10721},{"s":"2022","d":312.8,"v":10773},{"s":"2022","d":313.8,"v":10592},{"s":"2022","d":314.7,"v":10617},{"s":"2022","d":315.8,"v":10333},{"s":"2022","d":316.8,"v":10307},{"s":"2022","d":317.9,"v":10255},{"s":"2022","d":318.7,"v":10462},{"s":"2022","d":319.9,"v":10514},{"s":"2022","d":321.6,"v":10540},{"s":"2022","d":322.7,"v":10928},{"s":"2022","d":323.7,"v":10902},{"s":"2022","d":324.7,"v":11032},{"s":"2022","d":325.8,"v":10902},{"s":"2022","d":326.8,"v":10928},{"s":"2022","d":327.8,"v":11187},{"s":"2022","d":328.5,"v":10255},{"s":"2022","d":329.1,"v":9374},{"s":"2022","d":329.7,"v":8442},{"s":"2022","d":330.5,"v":8452},{"s":"2022","d":331.6,"v":8364},{"s":"2022","d":332.6,"v":8400},{"s":"2022","d":333.5,"v":8286},{"s":"2022","d":334.5,"v":8001},{"s":"2022","d":335.1,"v":8753},{"s":"2022","d":336.1,"v":10099},{"s":"2022","d":337,"v":10410},{"s":"2022","d":337.9,"v":10410},{"s":"2022","d":339,"v":10566},{"s":"2022","d":340.1,"v":10488},{"s":"2022","d":341.1,"v":10617},{"s":"2022","d":341.9,"v":10747},{"s":"2022","d":342.9,"v":10902},{"s":"2022","d":344,"v":10980},{"s":"2022","d":345.2,"v":10954},{"s":"2022","d":346.5,"v":10928},{"s":"2022","d":347.7,"v":10970},{"s":"2022","d":348.8,"v":11110},{"s":"2022","d":349.8,"v":10980},{"s":"2022","d":350.6,"v":10825},{"s":"2022","d":351.7,"v":10566},{"s":"2022","d":352.7,"v":10307},{"s":"2022","d":353.7,"v":10384},{"s":"2022","d":354.7,"v":10369},{"s":"2022","d":355.8,"v":10333},{"s":"2022","d":356.8,"v":10151},{"s":"2022","d":357.7,"v":9426},{"s":"2022","d":358.5,"v":9063},{"s":"2022","d":359.5,"v":8649},{"s":"2022","d":360.3,"v":8235},{"s":"2022","d":361,"v":7276},{"s":"2022","d":361.8,"v":7147},{"s":"2022","d":362.8,"v":6888},{"s":"2022","d":363.9,"v":7043},{"s":"2022","d":364.7,"v":7924},{"s":"2022","d":365.8,"v":8374},

      {"s":"2023","d":0.6,"v":8400},{"s":"2023","d":2.7,"v":8468},{"s":"2023","d":4.7,"v":8597},{"s":"2023","d":6,"v":8856},{"s":"2023","d":6.8,"v":9063},{"s":"2023","d":7.2,"v":9789},{"s":"2023","d":8.5,"v":10462},{"s":"2023","d":9.7,"v":10617},{"s":"2023","d":11.4,"v":10721},{"s":"2023","d":13.4,"v":10643},{"s":"2023","d":14.7,"v":10747},{"s":"2023","d":15.9,"v":10643},{"s":"2023","d":16.7,"v":10773},{"s":"2023","d":18,"v":10721},{"s":"2023","d":19.2,"v":10799},{"s":"2023","d":20,"v":10747},{"s":"2023","d":21.3,"v":10928},{"s":"2023","d":22.5,"v":11317},{"s":"2023","d":23.4,"v":11420},{"s":"2023","d":24.2,"v":11084},{"s":"2023","d":25.4,"v":10980},{"s":"2023","d":26.7,"v":10721},{"s":"2023","d":27.9,"v":10203},{"s":"2023","d":29.2,"v":10099},{"s":"2023","d":30.4,"v":9892},{"s":"2023","d":31.2,"v":10022},{"s":"2023","d":32.5,"v":10022},{"s":"2023","d":33.7,"v":10099},{"s":"2023","d":35,"v":10255},{"s":"2023","d":35.5,"v":10462},{"s":"2023","d":37,"v":10462},{"s":"2023","d":37.9,"v":10540},{"s":"2023","d":38.7,"v":10773},{"s":"2023","d":39.9,"v":10902},{"s":"2023","d":40.5,"v":10954},{"s":"2023","d":42,"v":10825},{"s":"2023","d":42.8,"v":10669},{"s":"2023","d":44.5,"v":10617},{"s":"2023","d":46.1,"v":10565},{"s":"2023","d":47.8,"v":10565},{"s":"2023","d":48.6,"v":10617},{"s":"2023","d":49.9,"v":10540},{"s":"2023","d":50.7,"v":10410},{"s":"2023","d":52.4,"v":10514},{"s":"2023","d":53.6,"v":10488},{"s":"2023","d":54.8,"v":10358},{"s":"2023","d":55.7,"v":10213},{"s":"2023","d":56.5,"v":10358},{"s":"2023","d":57.3,"v":10617},{"s":"2023","d":58.6,"v":10617},{"s":"2023","d":59.8,"v":10540},{"s":"2023","d":61.1,"v":10669},{"s":"2023","d":62.3,"v":10410},{"s":"2023","d":63.5,"v":10307},{"s":"2023","d":64.8,"v":10177},{"s":"2023","d":65.6,"v":10177},{"s":"2023","d":66.4,"v":9918},{"s":"2023","d":67.7,"v":9944},{"s":"2023","d":68.5,"v":9763},{"s":"2023","d":69.8,"v":9711},{"s":"2023","d":70.8,"v":9763},{"s":"2023","d":71.8,"v":9840},{"s":"2023","d":72.7,"v":9659},{"s":"2023","d":73.5,"v":9892},{"s":"2023","d":74.3,"v":9789},{"s":"2023","d":75.1,"v":9840},{"s":"2023","d":76.4,"v":9996},{"s":"2023","d":77.6,"v":9970},{"s":"2023","d":78.9,"v":10022},{"s":"2023","d":80.1,"v":10203},{"s":"2023","d":81.4,"v":10488},{"s":"2023","d":82.6,"v":10514},{"s":"2023","d":83.8,"v":10773},{"s":"2023","d":84.7,"v":10954},{"s":"2023","d":85.5,"v":10928},{"s":"2023","d":86.3,"v":11135},{"s":"2023","d":87.4,"v":11317},{"s":"2023","d":88.4,"v":11032},{"s":"2023","d":89.6,"v":11084},{"s":"2023","d":90.9,"v":11032},{"s":"2023","d":92.1,"v":11135},{"s":"2023","d":93.4,"v":11058},{"s":"2023","d":94.6,"v":10928},{"s":"2023","d":95.7,"v":10954},{"s":"2023","d":96.7,"v":10980},{"s":"2023","d":97.3,"v":10203},{"s":"2023","d":98.3,"v":10099},{"s":"2023","d":99.6,"v":9944},{"s":"2023","d":100.7,"v":9814},{"s":"2023","d":101.7,"v":9996},{"s":"2023","d":102.9,"v":10203},{"s":"2023","d":103.7,"v":10358},{"s":"2023","d":104.6,"v":11135},{"s":"2023","d":105.4,"v":11291},{"s":"2023","d":106.6,"v":11653},{"s":"2023","d":107.9,"v":11731},{"s":"2023","d":108.7,"v":11653},{"s":"2023","d":110,"v":11446},{"s":"2023","d":111.2,"v":11187},{"s":"2023","d":112.5,"v":11239},{"s":"2023","d":113.3,"v":11265},{"s":"2023","d":114.5,"v":11239},{"s":"2023","d":115.8,"v":11343},{"s":"2023","d":116.6,"v":11301},{"s":"2023","d":117.4,"v":11394},{"s":"2023","d":118.6,"v":11317},{"s":"2023","d":119.5,"v":11420},{"s":"2023","d":120.7,"v":11550},{"s":"2023","d":122,"v":11498},{"s":"2023","d":123.2,"v":11524},{"s":"2023","d":124.4,"v":11446},{"s":"2023","d":125.7,"v":11602},{"s":"2023","d":126.5,"v":11291},{"s":"2023","d":128.2,"v":11239},{"s":"2023","d":129.8,"v":11135},{"s":"2023","d":131.1,"v":11161},{"s":"2023","d":132.3,"v":11187},{"s":"2023","d":133.6,"v":11239},{"s":"2023","d":134.8,"v":11187},{"s":"2023","d":135.6,"v":11394},{"s":"2023","d":137.3,"v":11550},{"s":"2023","d":138.5,"v":11705},{"s":"2023","d":139.8,"v":11576},{"s":"2023","d":141,"v":11524},{"s":"2023","d":141.8,"v":11498},{"s":"2023","d":142.7,"v":11446},{"s":"2023","d":143.9,"v":11446},{"s":"2023","d":144.7,"v":11394},{"s":"2023","d":145.6,"v":11239},{"s":"2023","d":146.4,"v":11317},{"s":"2023","d":147.6,"v":11602},{"s":"2023","d":148.5,"v":11394},{"s":"2023","d":149.3,"v":10410},{"s":"2023","d":150.1,"v":10358},{"s":"2023","d":151.2,"v":10369},{"s":"2023","d":152.2,"v":10307},{"s":"2023","d":153.4,"v":10203},{"s":"2023","d":154.5,"v":10037},{"s":"2023","d":155.5,"v":10203},{"s":"2023","d":156.3,"v":10825},{"s":"2023","d":157.2,"v":10721},{"s":"2023","d":158.4,"v":10695},{"s":"2023","d":159.2,"v":10773},{"s":"2023","d":160.5,"v":10928},{"s":"2023","d":161.7,"v":11110},{"s":"2023","d":162.9,"v":11394},{"s":"2023","d":164.2,"v":11679},{"s":"2023","d":165.5,"v":11705},{"s":"2023","d":166.7,"v":11887},{"s":"2023","d":167.5,"v":11964},{"s":"2023","d":168.3,"v":11653},{"s":"2023","d":169.6,"v":11653},{"s":"2023","d":170.6,"v":11187},{"s":"2023","d":171.7,"v":11446},{"s":"2023","d":172.9,"v":11602},{"s":"2023","d":174.1,"v":11524},{"s":"2023","d":175.4,"v":11653},{"s":"2023","d":176.6,"v":11912},{"s":"2023","d":177.9,"v":11964},{"s":"2023","d":179.1,"v":11835},{"s":"2023","d":180.4,"v":11809},{"s":"2023","d":182,"v":11783},{"s":"2023","d":183.3,"v":11705},{"s":"2023","d":184.5,"v":11446},{"s":"2023","d":185.3,"v":11187},{"s":"2023","d":186.2,"v":10410},{"s":"2023","d":187,"v":9581},{"s":"2023","d":187.4,"v":9219},{"s":"2023","d":188.6,"v":9322},{"s":"2023","d":189.9,"v":9478},{"s":"2023","d":190.7,"v":9685},{"s":"2023","d":191.8,"v":10203},{"s":"2023","d":192.8,"v":11394},{"s":"2023","d":193.6,"v":12171},{"s":"2023","d":194.6,"v":12482},{"s":"2023","d":195.7,"v":12430},{"s":"2023","d":196.9,"v":12275},{"s":"2023","d":198.2,"v":12120},{"s":"2023","d":199.4,"v":12016},{"s":"2023","d":200.7,"v":11783},{"s":"2023","d":201.5,"v":11394},{"s":"2023","d":202.3,"v":11317},{"s":"2023","d":203.2,"v":11446},{"s":"2023","d":204.4,"v":11705},{"s":"2023","d":205.6,"v":11887},{"s":"2023","d":206.9,"v":11990},{"s":"2023","d":207.7,"v":12223},{"s":"2023","d":208.5,"v":12379},{"s":"2023","d":209.8,"v":12482},{"s":"2023","d":211,"v":12327},{"s":"2023","d":212.3,"v":12353},{"s":"2023","d":213.1,"v":12327},{"s":"2023","d":214.3,"v":12146},{"s":"2023","d":215.6,"v":12068},{"s":"2023","d":216.8,"v":11835},{"s":"2023","d":218.1,"v":11861},{"s":"2023","d":219.3,"v":11783},{"s":"2023","d":220.5,"v":11835},{"s":"2023","d":221.8,"v":11705},{"s":"2023","d":223,"v":11716},{"s":"2023","d":224.7,"v":11861},{"s":"2023","d":225.5,"v":11783},{"s":"2023","d":226.6,"v":11705},{"s":"2023","d":227.6,"v":11767},{"s":"2023","d":228.6,"v":11757},{"s":"2023","d":229.7,"v":11861},{"s":"2023","d":230.7,"v":11887},{"s":"2023","d":231.7,"v":11861},{"s":"2023","d":232.7,"v":11887},{"s":"2023","d":233.8,"v":11835},{"s":"2023","d":234.6,"v":11705},{"s":"2023","d":235.9,"v":11705},{"s":"2023","d":237.1,"v":11809},{"s":"2023","d":238.4,"v":11835},{"s":"2023","d":239.6,"v":11938},{"s":"2023","d":240.7,"v":11653},{"s":"2023","d":241.7,"v":11912},{"s":"2023","d":242.9,"v":11964},{"s":"2023","d":244.2,"v":11938},{"s":"2023","d":245.2,"v":11964},{"s":"2023","d":246,"v":11990},{"s":"2023","d":246.9,"v":11861},{"s":"2023","d":247.5,"v":11343},{"s":"2023","d":248.1,"v":10825},{"s":"2023","d":249.1,"v":10617},{"s":"2023","d":250.1,"v":10669},{"s":"2023","d":250.9,"v":10825},{"s":"2023","d":252,"v":10876},{"s":"2023","d":252.9,"v":10980},{"s":"2023","d":253.7,"v":11135},{"s":"2023","d":254.3,"v":11809},{"s":"2023","d":254.8,"v":12534},{"s":"2023","d":255.6,"v":12819},{"s":"2023","d":256.6,"v":12819},{"s":"2023","d":257.6,"v":12638},{"s":"2023","d":258.7,"v":12508},{"s":"2023","d":259.7,"v":12482},{"s":"2023","d":260.7,"v":12379},{"s":"2023","d":261.7,"v":12456},{"s":"2023","d":262.8,"v":12534},{"s":"2023","d":263.8,"v":12638},{"s":"2023","d":264.9,"v":12524},{"s":"2023","d":266.1,"v":12508},{"s":"2023","d":267.4,"v":12482},{"s":"2023","d":268.2,"v":12467},{"s":"2023","d":269.4,"v":12560},{"s":"2023","d":270.5,"v":12586},{"s":"2023","d":271.3,"v":12689},{"s":"2023","d":272.3,"v":12948},{"s":"2023","d":273.6,"v":13104},{"s":"2023","d":274.6,"v":13233},{"s":"2023","d":275.6,"v":13182},{"s":"2023","d":276.9,"v":13182},{"s":"2023","d":277.9,"v":13130},{"s":"2023","d":278.9,"v":13026},{"s":"2023","d":279.9,"v":12948},{"s":"2023","d":281,"v":12834},{"s":"2023","d":281.9,"v":12923},{"s":"2023","d":282.7,"v":12845},{"s":"2023","d":283.7,"v":12741},{"s":"2023","d":284.8,"v":12897},{"s":"2023","d":285.7,"v":12974},{"s":"2023","d":286.8,"v":13052},{"s":"2023","d":287.9,"v":13182},{"s":"2023","d":288.9,"v":13130},{"s":"2023","d":289.7,"v":13259},{"s":"2023","d":290.7,"v":13534},{"s":"2023","d":291.8,"v":13415},{"s":"2023","d":292.6,"v":13389},{"s":"2023","d":293.7,"v":13648},{"s":"2023","d":294.7,"v":13415},{"s":"2023","d":295.9,"v":13321},{"s":"2023","d":297,"v":13207},{"s":"2023","d":298,"v":13000},{"s":"2023","d":299,"v":12897},{"s":"2023","d":299.7,"v":12974},{"s":"2023","d":300.5,"v":12715},{"s":"2023","d":301.7,"v":12871},{"s":"2023","d":302.6,"v":12689},{"s":"2023","d":303.8,"v":12689},{"s":"2023","d":305,"v":12664},{"s":"2023","d":305.9,"v":12715},{"s":"2023","d":306.7,"v":12560},{"s":"2023","d":307.7,"v":12586},{"s":"2023","d":308.8,"v":12327},{"s":"2023","d":309.6,"v":12508},{"s":"2023","d":310.8,"v":12482},{"s":"2023","d":311.8,"v":12482},{"s":"2023","d":312.8,"v":12327},{"s":"2023","d":313.8,"v":12456},{"s":"2023","d":314.7,"v":12327},{"s":"2023","d":315.8,"v":12586},{"s":"2023","d":316.9,"v":12612},{"s":"2023","d":318,"v":12612},{"s":"2023","d":318.7,"v":12353},{"s":"2023","d":319.7,"v":12664},{"s":"2023","d":320.8,"v":12700},{"s":"2023","d":321.8,"v":12648},{"s":"2023","d":323.3,"v":12664},{"s":"2023","d":324.1,"v":12741},{"s":"2023","d":324.9,"v":13000},{"s":"2023","d":325.8,"v":13296},{"s":"2023","d":326.8,"v":13259},{"s":"2023","d":327.4,"v":12171},{"s":"2023","d":328,"v":11135},{"s":"2023","d":328.7,"v":10617},{"s":"2023","d":329.9,"v":10540},{"s":"2023","d":331.2,"v":10514},{"s":"2023","d":332.4,"v":10555},{"s":"2023","d":333.5,"v":10773},{"s":"2023","d":334,"v":11653},{"s":"2023","d":334.6,"v":12586},{"s":"2023","d":335.7,"v":13570},{"s":"2023","d":336.9,"v":13684},{"s":"2023","d":337.8,"v":13736},{"s":"2023","d":338.6,"v":13518},{"s":"2023","d":339.6,"v":13156},{"s":"2023","d":340.7,"v":12897},{"s":"2023","d":341.5,"v":12689},{"s":"2023","d":342.3,"v":12897},{"s":"2023","d":343.2,"v":13026},{"s":"2023","d":344.4,"v":13156},{"s":"2023","d":345.2,"v":13363},{"s":"2023","d":346.5,"v":13373},{"s":"2023","d":347.5,"v":13404},{"s":"2023","d":348.8,"v":13492},{"s":"2023","d":349.8,"v":13156},{"s":"2023","d":351,"v":12948},{"s":"2023","d":351.9,"v":12726},{"s":"2023","d":352.7,"v":13052},{"s":"2023","d":353.7,"v":13182},{"s":"2023","d":354.7,"v":13270},{"s":"2023","d":355.8,"v":13218},{"s":"2023","d":356.8,"v":13218},{"s":"2023","d":357.8,"v":13207},{"s":"2023","d":358.7,"v":13052},{"s":"2023","d":359.2,"v":12430},{"s":"2023","d":359.7,"v":11394},{"s":"2023","d":360.1,"v":10255},{"s":"2023","d":360.8,"v":9711},{"s":"2023","d":361.8,"v":9426},{"s":"2023","d":362.8,"v":9504},{"s":"2023","d":363.8,"v":9426},{"s":"2023","d":364.9,"v":9296},{"s":"2023","d":365.8,"v":9495}
    ],
    "white": [
      {"d":0.4,"v":9622},{"d":1.4,"v":9937},{"d":2.2,"v":10062},{"d":2.9,"v":9874},{"d":3.5,"v":9968},{"d":4.1,"v":10251},{"d":4.7,"v":10471},{"d":5.6,"v":10723},{"d":6.2,"v":10880},{"d":6.8,"v":11761},{"d":7.4,"v":12704},{"d":8.5,"v":13019},{"d":9.5,"v":13145},{"d":10.4,"v":13239},{"d":10.9,"v":13019},{"d":11.5,"v":12641},{"d":12.2,"v":12453},{"d":13.2,"v":12358},{"d":13.8,"v":11824},{"d":14.5,"v":11651},{"d":15.3,"v":11761},{"d":16.3,"v":11855},{"d":17.1,"v":11981},{"d":17.8,"v":12201},{"d":18.4,"v":12453},{"d":19.2,"v":12327},{"d":19.8,"v":12264},{"d":20.6,"v":12232},{"d":21.1,"v":12767},{"d":22,"v":13019},{"d":22.9,"v":13113},{"d":23.8,"v":13176},{"d":24.6,"v":13333},{"d":25.4,"v":13506},{"d":26.3,"v":13648},{"d":27.1,"v":13711},{"d":27.9,"v":13774},{"d":28.7,"v":13868},{"d":29.6,"v":13931},{"d":30.4,"v":13978},{"d":31.1,"v":13931},{"d":32.1,"v":13994},{"d":33.1,"v":14120},{"d":34.1,"v":14182},{"d":35,"v":14198},{"d":35.5,"v":14151},{"d":36.2,"v":14088},{"d":37,"v":13711},{"d":38,"v":13821},{"d":39.1,"v":13774},{"d":40.3,"v":13726},{"d":41.6,"v":13585},{"d":42.8,"v":13333},{"d":43.7,"v":13270},{"d":44.5,"v":13302},{"d":45.7,"v":13129},{"d":47,"v":12924},{"d":48.2,"v":12940},{"d":49,"v":13003},{"d":49.9,"v":13145},{"d":51.1,"v":13333},{"d":52.4,"v":13412},{"d":53.6,"v":13553},{"d":54.4,"v":13742},{"d":55.3,"v":13836},{"d":56.1,"v":13774},{"d":57.1,"v":14009},{"d":57.7,"v":14088},{"d":58.6,"v":13994},{"d":59.4,"v":13947},{"d":60.2,"v":14009},{"d":61.1,"v":13899},{"d":61.9,"v":13758},{"d":62.7,"v":13789},{"d":63.5,"v":13695},{"d":64.4,"v":13726},{"d":65.2,"v":13663},{"d":66,"v":13522},{"d":66.7,"v":13470},{"d":67.3,"v":13522},{"d":68.1,"v":13585},{"d":68.7,"v":13616},{"d":69.3,"v":13396},{"d":70.2,"v":13302},{"d":71,"v":13145},{"d":71.8,"v":12956},{"d":72.7,"v":12799},{"d":73.5,"v":12861},{"d":74.5,"v":12783},{"d":75.6,"v":12956},{"d":76.6,"v":13145},{"d":77.6,"v":13097},{"d":78.6,"v":13239},{"d":79.7,"v":13428},{"d":80.9,"v":13459},{"d":81.9,"v":13333},{"d":82.8,"v":13270},{"d":83.6,"v":13491},{"d":84.4,"v":13821},{"d":85.3,"v":13805},{"d":86.1,"v":13852},{"d":86.9,"v":13774},{"d":87.7,"v":13632},{"d":88.8,"v":13553},{"d":89.9,"v":13459},{"d":90.9,"v":13396},{"d":91.7,"v":13082},{"d":92.5,"v":12956},{"d":93.4,"v":12909},{"d":94.2,"v":12987},{"d":95.2,"v":13003},{"d":96.3,"v":12956},{"d":97.3,"v":12877},{"d":98.3,"v":12956},{"d":99.2,"v":13113},{"d":100,"v":13160},{"d":100.8,"v":13302},{"d":101.6,"v":13459},{"d":102.6,"v":13726},{"d":103.5,"v":13805},{"d":104.3,"v":14025},{"d":105,"v":14009},{"d":105.6,"v":14041},{"d":106.5,"v":14050},{"d":107.3,"v":13758},{"d":108.3,"v":13805},{"d":109.1,"v":13616},{"d":110.1,"v":13585},{"d":111.4,"v":13556}
    ],
    "tagsL": [
      {"s":"2023","t":"9494.57","v":9494.57},
      {"s":"2022","t":"8374.43","v":8374.43},
      {"s":"2021","t":"7344.86","v":7344.86},
      {"s":"2020","t":"10498.71","v":10498.71}
    ]
  },
  "layer": [
    {
      "data": {"name": "white"},
      "mark": {
        "type": "area",
        "color": {
          "x1": 0, "y1": 0, "x2": 0, "y2": 1, "gradient": "linear",
          "stops": [
            {"offset": 0, "color": "#a0a0a0"},
            {"offset": 0.08, "color": "#8a8a8a"},
            {"offset": 0.31, "color": "#505050"},
            {"offset": 0.54, "color": "#2c2c2c"},
            {"offset": 0.75, "color": "#191919"},
            {"offset": 1, "color": "#0a0a0a"}
          ]
        }
      },
      "encoding": {
        "x": {"field": "d", "type": "quantitative", "scale": {"domain": [0, 366], "nice": false, "zero": false}},
        "y": {"field": "v", "type": "quantitative", "scale": {"domain": [9503, 14339], "nice": false, "zero": false}, "axis": null},
        "y2": {"datum": 9503}
      }
    },
    {
      "layer": [
        {
          "data": {"values": [{"t": "F\u2009R\u2009E\u2009I\u2009G\u2009H\u2009T"}]},
          "mark": {"type": "text", "font": "DejaVu Sans", "fontSize": 23, "fontWeight": "bold", "color": "#363636", "baseline": "middle", "align": "center"},
          "encoding": {
            "x": {"datum": 171.6, "type": "quantitative", "scale": {"domain": [0, 366], "nice": false, "zero": false}},
            "y": {"datum": 10771, "type": "quantitative", "scale": {"domain": [6793, 14762], "nice": false, "zero": false}},
            "text": {"field": "t"}
          }
        },
        {
          "data": {"values": [{"t": "W\u2009A\u2009V\u2009E\u2009S"}]},
          "mark": {"type": "text", "font": "DejaVu Sans", "fontSize": 23, "color": "#303030", "baseline": "middle", "align": "center"},
          "encoding": {
            "x": {"datum": 201.4, "type": "quantitative", "scale": {"domain": [0, 366], "nice": false, "zero": false}},
            "y": {"datum": 10771, "type": "quantitative", "scale": {"domain": [6793, 14762], "nice": false, "zero": false}},
            "text": {"field": "t"}
          }
        },
        {
          "data": {"values": [{"t": "S\u2002O\u2002N\u2002A\u2002R"}]},
          "mark": {"type": "text", "font": "DejaVu Sans", "fontSize": 21, "color": "#303030", "baseline": "middle", "align": "center"},
          "encoding": {
            "x": {"datum": 183.1, "type": "quantitative", "scale": {"domain": [0, 366], "nice": false, "zero": false}},
            "y": {"datum": 10450, "type": "quantitative", "scale": {"domain": [6793, 14762], "nice": false, "zero": false}},
            "text": {"field": "t"}
          }
        },
        {
          "data": {"name": "lines"},
          "mark": {"type": "line", "strokeWidth": 1.5},
          "encoding": {
            "x": {
              "field": "d", "type": "quantitative",
              "scale": {"domain": [0, 366], "nice": false, "zero": false},
              "axis": {
                "title": null,
                "values": [31, 60, 91, 121, 152, 182, 213, 244, 274, 305, 335, 366],
                "labelExpr": "['Feb','Mar','Apr','May','Jun','Jul','Aug','Sep','Oct','Nov','Dec','20'][indexof([31,60,91,121,152,182,213,244,274,305,335,366], datum.value)]",
                "grid": true, "gridColor": "#141414",
                "labelColor": {"condition": {"test": "datum.value == 366", "value": "#ffffff"}, "value": "#b0b0b0"},
                "labelFontWeight": {"condition": {"test": "datum.value == 366", "value": "bold"}, "value": "normal"},
                "labelFontSize": 12.5, "tickSize": 4, "labelPadding": 3,
                "labelOverlap": false, "labelFlush": false
              }
            },
            "y": {
              "field": "v", "type": "quantitative",
              "scale": {"domain": [6793, 14762], "nice": false, "zero": false},
              "axis": {
                "orient": "left", "title": null,
                "values": [7000, 8000, 9000, 10000, 11000, 12000, 13000, 14000],
                "format": ".2f", "grid": false,
                "labelColor": "#b4b4b4", "labelFontSize": 13, "tickSize": 3, "labelPadding": 1
              }
            },
            "color": {
              "field": "s", "type": "nominal",
              "scale": {"domain": ["2023", "2022", "2021", "2020"], "range": ["#86c8f0", "#2b9f48", "#daa20c", "#166dfa"]},
              "legend": {
                "orient": "none", "legendX": 9, "legendY": 39.5, "padding": 0,
                "title": "Seasonality Mode", "titleColor": "#cfcfcf", "titleFontSize": 11, "titleFontWeight": "normal", "titlePadding": 6,
                "symbolType": "square", "symbolSize": 90, "symbolOffset": 3, "symbolStrokeWidth": 0,
                "labelColor": "#ffffff", "labelFontSize": 9.8, "labelFontWeight": "bold", "labelOffset": 5, "rowPadding": 8.8,
                "labelExpr": "'ORAILINTL.USA (' + datum.label + ')'",
                "encode": {"symbols": {"update": {"fill": {"scale": "color", "field": "value"}, "stroke": {"value": "transparent"}, "opacity": {"value": 1}}}}
              }
            }
          }
        },
        {
          "data": {"values": [{"a": 0.5, "b": 90, "v": 10324.44}]},
          "mark": {"type": "rule", "color": "#c0c0c0", "strokeWidth": 1.5},
          "encoding": {
            "x": {"field": "a", "type": "quantitative", "scale": {"domain": [0, 366], "nice": false, "zero": false}},
            "x2": {"field": "b"},
            "y": {"field": "v", "type": "quantitative", "scale": {"domain": [6793, 14762], "nice": false, "zero": false}}
          }
        },
        {
          "data": {"values": [{"a": 0.5, "b": 90, "v": 10324.44}]},
          "transform": [{"fold": ["a", "b"], "as": ["end", "x"]}],
          "mark": {"type": "tick", "orient": "vertical", "color": "#c0c0c0", "thickness": 1.5, "size": 24, "opacity": 1},
          "encoding": {
            "x": {"field": "x", "type": "quantitative", "scale": {"domain": [0, 366], "nice": false, "zero": false}},
            "y": {"field": "v", "type": "quantitative", "scale": {"domain": [6793, 14762], "nice": false, "zero": false}}
          }
        },
        {
          "data": {"values": [{"t": "button"}]},
          "mark": {"type": "point", "filled": true, "shape": "M-1,-0.353L1,-0.353L1,0.353L-1,0.353Z", "size": 2601, "color": "#d4d4d4", "opacity": 1, "strokeWidth": 0},
          "encoding": {
            "x": {"datum": 183, "type": "quantitative", "scale": {"domain": [0, 366], "nice": false, "zero": false}},
            "y": {"datum": 7020, "type": "quantitative", "scale": {"domain": [6793, 14762], "nice": false, "zero": false}}
          }
        },
        {
          "data": {"values": [{"t": "−"}]},
          "mark": {"type": "text", "fontSize": 16, "fontWeight": "bold", "color": "#3c3c3c", "baseline": "middle", "align": "center"},
          "encoding": {
            "x": {"datum": 179.6, "type": "quantitative", "scale": {"domain": [0, 366], "nice": false, "zero": false}},
            "y": {"datum": 7020, "type": "quantitative", "scale": {"domain": [6793, 14762], "nice": false, "zero": false}},
            "text": {"field": "t"}
          }
        },
        {
          "data": {"values": [{"t": "+"}]},
          "mark": {"type": "text", "fontSize": 16, "fontWeight": "bold", "color": "#3c3c3c", "baseline": "middle", "align": "center"},
          "encoding": {
            "x": {"datum": 186.1, "type": "quantitative", "scale": {"domain": [0, 366], "nice": false, "zero": false}},
            "y": {"datum": 7020, "type": "quantitative", "scale": {"domain": [6793, 14762], "nice": false, "zero": false}},
            "text": {"field": "t"}
          }
        },
        {
          "data": {"name": "tagsL"},
          "mark": {"type": "point", "filled": true, "size": 3600, "opacity": 1, "strokeWidth": 0},
          "encoding": {
            "x": {"datum": 0, "type": "quantitative", "scale": {"domain": [0, 366], "nice": false, "zero": false}},
            "y": {"field": "v", "type": "quantitative", "scale": {"domain": [6793, 14762], "nice": false, "zero": false}},
            "color": {
              "field": "s", "type": "nominal",
              "scale": {"domain": ["2023", "2022", "2021", "2020"], "range": ["#86c8f0", "#2b9f48", "#daa20c", "#166dfa"]},
              "legend": {
                "orient": "none", "legendX": 9, "legendY": 39.5, "padding": 0,
                "title": "Seasonality Mode", "titleColor": "#cfcfcf", "titleFontSize": 11, "titleFontWeight": "normal", "titlePadding": 6,
                "symbolType": "square", "symbolSize": 90, "symbolOffset": 3, "symbolStrokeWidth": 0,
                "labelColor": "#ffffff", "labelFontSize": 9.8, "labelFontWeight": "bold", "labelOffset": 5, "rowPadding": 8.8,
                "labelExpr": "'ORAILINTL.USA (' + datum.label + ')'",
                "encode": {"symbols": {"update": {"fill": {"scale": "color", "field": "value"}, "stroke": {"value": "transparent"}, "opacity": {"value": 1}}}}
              }
            },
            "shape": {
              "field": "t", "type": "nominal",
              "scale": {
                "domain": ["9494.57", "8374.43", "7344.86", "10498.71"],
                "range": [
                  "M-1.767,-0.258L0.033,-0.258L0.233,0L0.033,0.258L-1.767,0.258Z",
                  "M-1.767,-0.258L0.033,-0.258L0.233,0L0.033,0.258L-1.767,0.258Z",
                  "M-1.767,-0.258L0.033,-0.258L0.233,0L0.033,0.258L-1.767,0.258Z",
                  "M-2.033,-0.258L0.033,-0.258L0.233,0L0.033,0.258L-2.033,0.258Z"
                ]
              },
              "legend": {
                "orient": "none", "legendX": 182, "legendY": 55, "padding": 0, "title": null,
                "symbolOpacity": 0, "symbolSize": 1, "symbolStrokeWidth": 0,
                "labelColor": "#a8a8a8", "labelFontSize": 11, "labelOffset": 0, "labelAlign": "right", "rowPadding": 8.1
              }
            }
          }
        },
        {
          "data": {"name": "tagsL"},
          "mark": {"type": "text", "align": "right", "baseline": "middle", "dx": -4, "fontSize": 13},
          "encoding": {
            "x": {"datum": 0, "type": "quantitative", "scale": {"domain": [0, 366], "nice": false, "zero": false}},
            "y": {"field": "v", "type": "quantitative", "scale": {"domain": [6793, 14762], "nice": false, "zero": false}},
            "text": {"field": "t"},
            "color": {"condition": {"test": "datum.s === '2020'", "value": "#ffffff"}, "value": "#141414"}
          }
        },
        {
          "data": {"values": [{"t": "10324.44", "v": 10324.44}]},
          "mark": {"type": "point", "filled": true, "size": 3600, "opacity": 1, "strokeWidth": 0, "color": "#ffffff",
                   "shape": "M-2.033,-0.258L0.033,-0.258L0.233,0L0.033,0.258L-2.033,0.258Z"},
          "encoding": {
            "x": {"datum": 0, "type": "quantitative", "scale": {"domain": [0, 366], "nice": false, "zero": false}},
            "y": {"field": "v", "type": "quantitative", "scale": {"domain": [6793, 14762], "nice": false, "zero": false}}
          }
        },
        {
          "data": {"values": [{"t": "10324.44", "v": 10324.44}]},
          "mark": {"type": "text", "align": "right", "baseline": "middle", "dx": -4, "fontSize": 13, "color": "#333333"},
          "encoding": {
            "x": {"datum": 0, "type": "quantitative", "scale": {"domain": [0, 366], "nice": false, "zero": false}},
            "y": {"field": "v", "type": "quantitative", "scale": {"domain": [6793, 14762], "nice": false, "zero": false}},
            "text": {"field": "t"}
          }
        }
      ]
    },
    {
      "layer": [
        {
          "data": {"name": "white"},
          "mark": {"type": "line", "color": "#efefef", "strokeWidth": 1.5},
          "encoding": {
            "x": {"field": "d", "type": "quantitative", "scale": {"domain": [0, 366], "nice": false, "zero": false}},
            "y": {
              "field": "v", "type": "quantitative",
              "scale": {"domain": [9503, 14339], "nice": false, "zero": false},
              "axis": {
                "orient": "right", "title": null,
                "values": [10000, 10500, 11000, 11500, 12000, 12500, 13000, 13500, 14000],
                "format": ".2f", "grid": true, "gridColor": "#161616",
                "labelColor": "#b4b4b4", "labelFontSize": 13, "tickSize": 3, "labelPadding": 2
              }
            }
          }
        },
        {
          "data": {"values": [{"v": 13556}]},
          "mark": {"type": "rule", "color": "#8a2414", "strokeDash": [4, 4], "strokeWidth": 1.5},
          "encoding": {
            "y": {"field": "v", "type": "quantitative", "scale": {"domain": [9503, 14339], "nice": false, "zero": false}}
          }
        },
        {
          "data": {"values": [{"a": 0.5, "b": 90, "v": 13092.88}]},
          "mark": {"type": "rule", "color": "#a8a8a8", "strokeWidth": 1.5},
          "encoding": {
            "x": {"field": "a", "type": "quantitative", "scale": {"domain": [0, 366], "nice": false, "zero": false}},
            "x2": {"field": "b"},
            "y": {"field": "v", "type": "quantitative", "scale": {"domain": [9503, 14339], "nice": false, "zero": false}}
          }
        },
        {
          "data": {"values": [{"a": 0.5, "b": 90, "v": 13092.88}]},
          "transform": [{"fold": ["a", "b"], "as": ["end", "x"]}],
          "mark": {"type": "tick", "orient": "vertical", "color": "#a8a8a8", "thickness": 1.5, "size": 25, "opacity": 1},
          "encoding": {
            "x": {"field": "x", "type": "quantitative", "scale": {"domain": [0, 366], "nice": false, "zero": false}},
            "y": {"field": "v", "type": "quantitative", "scale": {"domain": [9503, 14339], "nice": false, "zero": false}}
          }
        },
        {
          "data": {"values": [{"t": "13556.00", "v": 13556}]},
          "mark": {"type": "point", "filled": true, "size": 3600, "opacity": 1, "strokeWidth": 0, "color": "#c2301b",
                   "shape": "M-0.233,0L0,-0.258L1.967,-0.258L1.967,0.258L0,0.258Z"},
          "encoding": {
            "x": {"datum": 366, "type": "quantitative", "scale": {"domain": [0, 366], "nice": false, "zero": false}},
            "y": {"field": "v", "type": "quantitative", "scale": {"domain": [9503, 14339], "nice": false, "zero": false}}
          }
        },
        {
          "data": {"values": [{"t": "13556.00", "v": 13556}]},
          "mark": {"type": "text", "align": "left", "baseline": "middle", "dx": 4, "fontSize": 13, "fontWeight": "bold", "color": "#ffffff"},
          "encoding": {
            "x": {"datum": 366, "type": "quantitative", "scale": {"domain": [0, 366], "nice": false, "zero": false}},
            "y": {"field": "v", "type": "quantitative", "scale": {"domain": [9503, 14339], "nice": false, "zero": false}},
            "text": {"field": "t"}
          }
        },
        {
          "data": {"values": [{"t": "13092.88", "v": 13092.88}]},
          "mark": {"type": "point", "filled": true, "size": 3600, "opacity": 1, "strokeWidth": 0, "color": "#ffffff",
                   "shape": "M-0.233,0L0,-0.258L1.967,-0.258L1.967,0.258L0,0.258Z"},
          "encoding": {
            "x": {"datum": 366, "type": "quantitative", "scale": {"domain": [0, 366], "nice": false, "zero": false}},
            "y": {"field": "v", "type": "quantitative", "scale": {"domain": [9503, 14339], "nice": false, "zero": false}}
          }
        },
        {
          "data": {"values": [{"t": "13092.88", "v": 13092.88}]},
          "mark": {"type": "text", "align": "left", "baseline": "middle", "dx": 4, "fontSize": 13, "color": "#333333"},
          "encoding": {
            "x": {"datum": 366, "type": "quantitative", "scale": {"domain": [0, 366], "nice": false, "zero": false}},
            "y": {"field": "v", "type": "quantitative", "scale": {"domain": [9503, 14339], "nice": false, "zero": false}},
            "text": {"field": "t"}
          }
        }
      ]
    }
  ],
  "resolve": {"scale": {"y": "independent"}}
}
